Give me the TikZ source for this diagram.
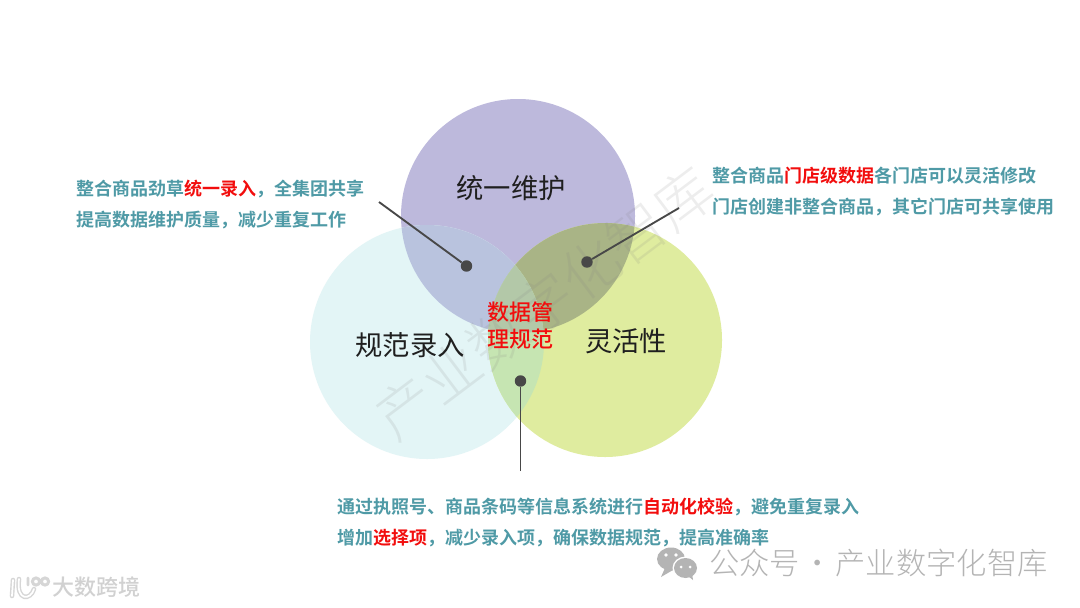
\documentclass[tikz,border=0pt]{standalone}
\usepackage{fontspec}
\setmainfont{Noto Sans CJK SC}
\newfontfamily\cjk{Noto Sans CJK SC}
\newfontfamily\cjkm{Noto Sans CJK SC Medium}
\newfontfamily\cjkb{Noto Sans CJK SC Bold}
\newfontfamily\cjkl{Noto Sans CJK SC Light}
\newcommand{\fs}[1]{\fontsize{#1}{#1}\selectfont}
\definecolor{cpurple}{HTML}{BDB9DC}
\definecolor{cteal}{HTML}{E3F5F6}
\definecolor{cgreen}{HTML}{DFEC9F}
\definecolor{cpt}{HTML}{B9C3DE}
\definecolor{cpg}{HTML}{A9B486}
\definecolor{ctg}{HTML}{C6E5B2}
\definecolor{cptg}{HTML}{B3C8A8}
\definecolor{cblue}{HTML}{4F9AA6}
\definecolor{cred}{HTML}{F20D0D}
\definecolor{cdark}{HTML}{484848}
\definecolor{cmark}{HTML}{B4B4B4}
\tikzset{
  callout/.style={anchor=west,inner sep=0pt,font=\cjkb\fs{13.5},text=cblue},
  vennlabel/.style={inner sep=0pt,font=\cjk\fs{20.5},text=black!88},
  corelabel/.style={inner sep=0pt,font=\cjkm\fs{16.5},text=cred},
  leaderdot/.style={circle,fill=cdark,inner sep=0pt,minimum size=8.6pt},
  leader/.style={draw=cdark,line width=1.4pt},
}
\newcommand{\hl}[1]{\textcolor{cred}{#1}}
\begin{document}
\begin{tikzpicture}[x=0.75pt,y=-0.75pt]
\useasboundingbox (0,0) rectangle (1080,607);
\fill[white] (0,0) rectangle (1080,607);
\def\cP{(518,216) circle (117)}
\def\cT{(427,342) circle (117)}
\def\cG{(605,340) circle (117)}
\fill[cpurple] \cP;
\fill[cteal] \cT;
\fill[cgreen] \cG;
\begin{scope}\clip \cP; \fill[cpt] \cT; \end{scope}
\begin{scope}\clip \cP; \fill[cpg] \cG; \end{scope}
\begin{scope}\clip \cT; \fill[ctg] \cG; \end{scope}
\begin{scope}\clip \cP; \clip \cT; \fill[cptg] \cG; \end{scope}
% diagonal watermark
\node[rotate=37,inner sep=0pt,font=\cjkl\fs{43.5},text=gray,opacity=.14] (wm) at (544,303) {产业数字化智库};
% venn labels
\node[vennlabel] (a) at (511,188) {统一维护};
\node[vennlabel] (b) at (410,345) {规范录入};
\node[vennlabel] (c) at (626,341) {灵活性};
\node[corelabel] (d1) at (520,312) {数据管};
\node[corelabel] (d2) at (520,339) {理规范};
% callouts
\node[callout] (t1) at (76,189) {整合商品劲草\hl{统一录入}，全集团共享};
\node[callout] (t2) at (76,220) {提高数据维护质量，减少重复工作};
\node[callout] (t3) at (712,176) {整合商品\hl{门店级数据}各门店可以灵活修改};
\node[callout] (t4) at (712,207) {门店创建非整合商品，其它门店可共享使用};
\node[callout] (t5) at (337,507) {通过执照号、商品条码等信息系统进行\hl{自动化校验}，避免重复录入};
\node[callout] (t6) at (337,538) {增加\hl{选择项}，减少录入项，确保数据规范，提高准确率};
% leaders
\node[leaderdot] (p1) at (466.5,266) {};
\node[leaderdot] (p2) at (587,262) {};
\node[leaderdot] (p3) at (520.5,381) {};
\coordinate (e1) at (379,202);
\coordinate (e2) at (679,208);
\coordinate (e3) at (520.5,471);
\draw[leader] (e1) -- (p1);
\draw[leader] (e2) -- (p2);
\draw[leader] (e3) -- (p3);
% footer: chat icon
\fill[cmark] (671,559) ellipse (14 and 11.5);
\fill[cmark] (665,568) -- (661,577) -- (673,570) -- cycle;
\fill[white] (685.5,568) ellipse (13 and 11.5);
\fill[cmark] (685.5,568) ellipse (11.5 and 10);
\fill[cmark] (688,576) -- (693,580) -- (692,573) -- cycle;
\fill[white] (666,555) circle (1.9) (676,555) circle (1.9) (681,567) circle (1.5) (690,567) circle (1.5);
\node[anchor=west,inner sep=0pt,font=\cjkl\fs{22.7},text=cmark] (wm2) at (709,563) {公众号\kern-3pt{} · \kern-3pt{}产业数字化智库};
% footer: logo
\node[anchor=west,inner sep=0pt,font=\cjkm\fs{16.5},text=black!18] (wm3) at (52,587) {大数跨境};
\begin{scope}[line cap=round]
\draw[black!16,line width=3.4pt] (13,580) -- (12,596);
\draw[black!16,line width=3.4pt] (19,579) .. controls (16,602) and (31,600) .. (34,589);
\draw[black!16,line width=2.2pt] (28,578) -- (28,585) (36,581.5) circle (3.6) (45,581.5) circle (3.6);
\draw[white,line width=1.3pt] (13,580) -- (12,596);
\draw[white,line width=1.3pt] (19,579) .. controls (16,602) and (31,600) .. (34,589);
\end{scope}
\end{tikzpicture}
\end{document}
